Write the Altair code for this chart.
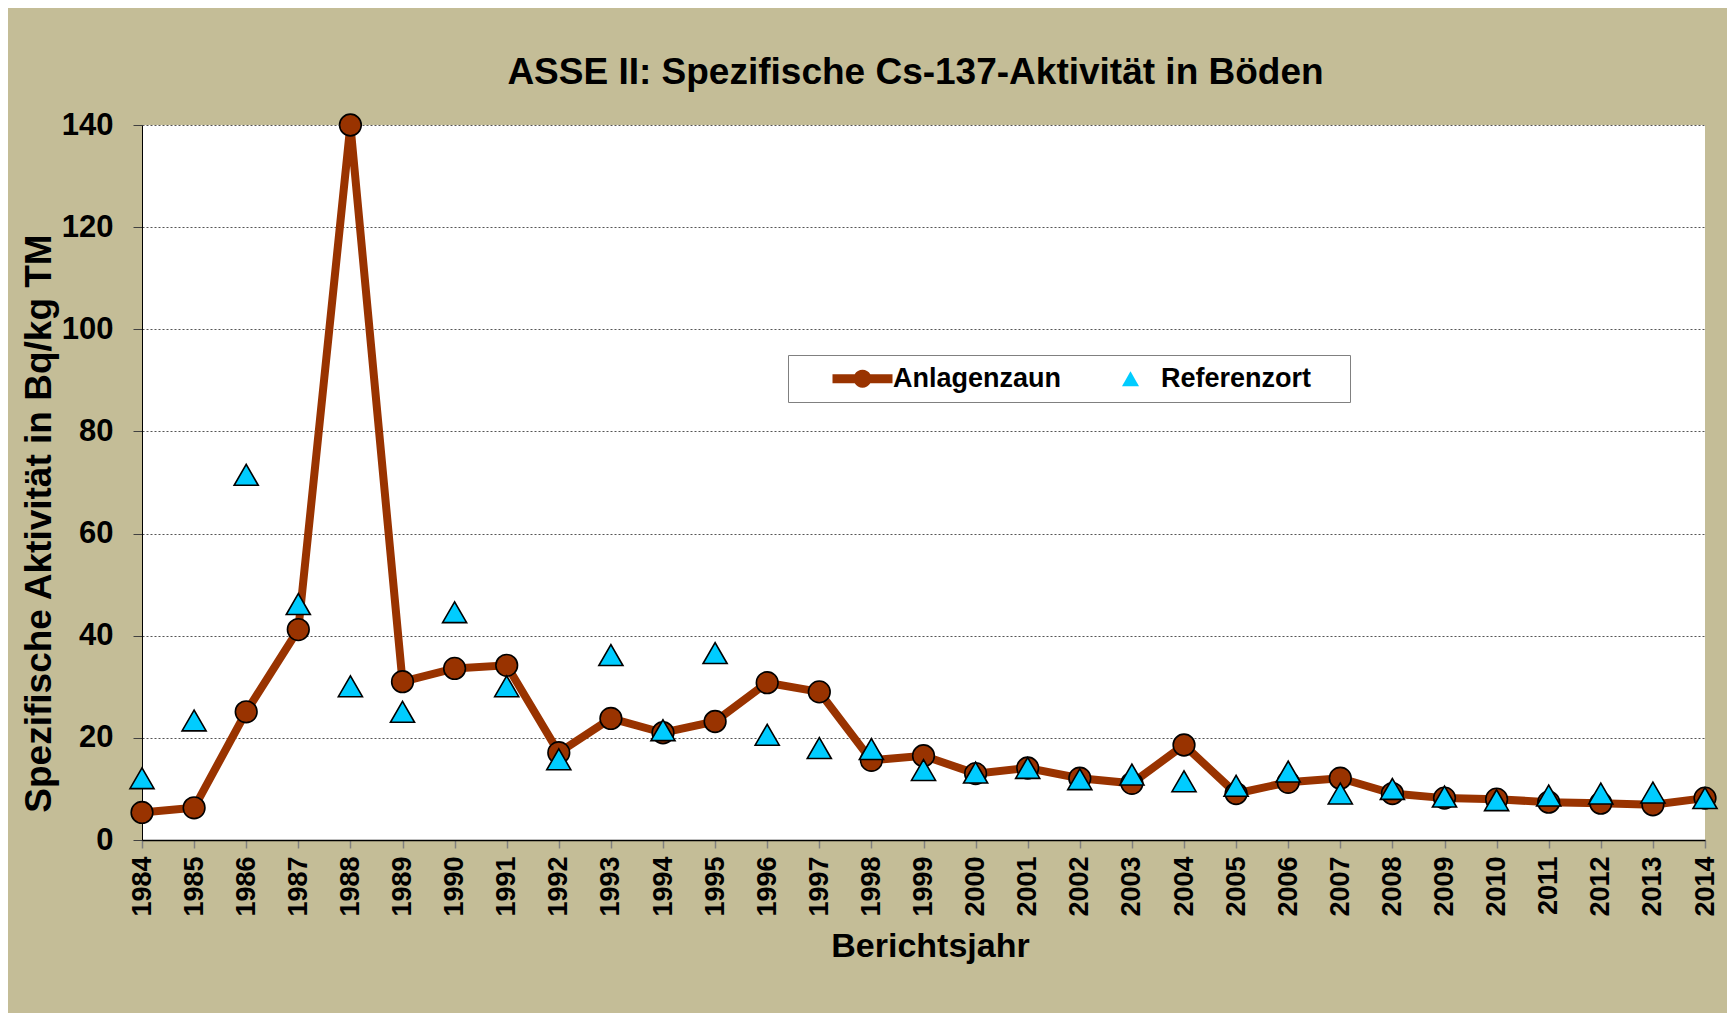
import altair as alt
import pandas as pd

years = list(range(1984, 2015))
anlagenzaun = [5.4, 6.3, 25.1, 41.2, 140.0, 31.0, 33.6, 34.2, 17.1, 23.8,
               21.0, 23.2, 30.8, 29.0, 15.6, 16.5, 13.0, 14.1, 12.1, 11.1,
               18.6, 9.1, 11.3, 12.1, 9.1, 8.2, 8.0, 7.4, 7.2, 6.9, 8.2]
referenzort = [12.1, 23.4, 71.5, 46.2, 30.1, 25.1, 44.6, 30.1, 15.8, 36.2,
               21.5, 36.6, 20.6, 18.0, 17.8, 13.7, 13.2, 14.1, 11.9, 12.8,
               11.5, 10.6, 13.4, 9.1, 10.0, 8.5, 7.8, 8.7, 9.1, 9.3, 8.2]
series_names = ["Anlagenzaun", "Referenzort"]
y_ticks = [0, 20, 40, 60, 80, 100, 120, 140]

title_text = "ASSE II: Spezifische Cs-137-Aktivität in Böden"
x_title = "Berichtsjahr"
y_title = "Spezifische Aktivität in Bq/kg TM"

BROWN = "#993300"
CYAN = "#00CCFF"
BG = "#C4BD97"
FONT = "Liberation Sans"

df = pd.DataFrame({
    "Jahr": years * 2,
    "Wert": anlagenzaun + referenzort,
    "Serie": [series_names[0]] * len(years) + [series_names[1]] * len(years),
})

x_enc = alt.X("Jahr:Q",
              scale=alt.Scale(domain=[1984, 2014], nice=False, zero=False),
              axis=alt.Axis(values=years, format="d", title=x_title,
                            labelAngle=270, labelAlign="right", labelBaseline="middle",
                            labelFontSize=27, labelFont=FONT, labelFontWeight="bold",
                            labelColor="black", labelPadding=8,
                            tickSize=8, tickColor="#808080", tickWidth=1.5,
                            domainColor="black", domainWidth=1.5,
                            titleFont=FONT, titleFontSize=34, titleFontWeight="bold",
                            titleColor="black", titleBaseline="alphabetic",
                            titleY=116, titleX=788, titleAlign="center",
                            grid=False, labelOverlap=False, labelFlush=False))
y_enc = alt.Y("Wert:Q",
              scale=alt.Scale(domain=[0, 140], nice=False),
              axis=alt.Axis(values=y_ticks, title=y_title,
                            labelFontSize=31, labelFont=FONT, labelFontWeight="bold",
                            labelColor="black", labelPadding=20,
                            tickSize=9, tickColor="#404040", tickWidth=1,
                            domainColor="black", domainWidth=1,
                            grid=True, gridColor="#555555", gridDash=[2, 2], gridWidth=1,
                            titleFont=FONT, titleFontSize=37, titleFontWeight="bold",
                            titleColor="black", titleAngle=270,
                            titleBaseline="alphabetic", titleAlign="center",
                            titleX=-92, titleY=398, labelFlush=False))

base = alt.Chart(df)

line = base.transform_filter(alt.datum.Serie == series_names[0]).mark_line(
    color=BROWN, strokeWidth=8, strokeJoin="miter"
).encode(x=x_enc, y=y_enc)

circles = base.transform_filter(alt.datum.Serie == series_names[0]).mark_point(
    shape="circle", filled=True, fill=BROWN, stroke="black", strokeWidth=1.6,
    size=470, opacity=1
).encode(x=x_enc, y=y_enc)

triangles = base.transform_filter(alt.datum.Serie == series_names[1]).mark_point(
    shape="triangle-up", filled=True, fill=CYAN, stroke="black", strokeWidth=1.6,
    size=580, opacity=1
).encode(x=x_enc, y=y_enc)

line_circle_path = ("M-3,-0.45 H-0.779 A0.9,0.9 0 0,1 0.779,-0.45 H3 V0.45 H0.779 "
                    "A0.9,0.9 0 0,1 -0.779,0.45 H-3 Z")
tri_path = "M0,-0.75 L0.85,0.75 L-0.85,0.75 Z"

legend_layer = base.transform_filter("false").mark_point(
    filled=True, stroke="black", strokeWidth=1.3, opacity=1
).encode(
    x=x_enc, y=y_enc,
    shape=alt.Shape("Serie:N", scale=alt.Scale(domain=series_names,
                                               range=[line_circle_path, tri_path]),
                    legend=alt.Legend(
                        title="\u00a0", titleOrient="right", titlePadding=29,
                        titleFontSize=2, titleColor="white",
                        orient="none", legendX=646, legendY=230,
                        direction="horizontal", fillColor="white",
                        strokeColor="#808080", padding=10, columnPadding=4,
                        symbolSize=400, symbolOffset=51, labelOffset=17,
                        symbolStrokeColor="black", symbolStrokeWidth=1.3,
                        labelFont=FONT, labelFontSize=27, labelFontWeight="bold",
                        labelColor="black", labelLimit=400)),
    fill=alt.Fill("Serie:N", scale=alt.Scale(domain=series_names, range=[BROWN, CYAN]),
                  legend=None),
)

chart = alt.layer(line, circles, triangles, legend_layer).properties(
    width=1563, height=715,
    title=alt.TitleParams(text=title_text, font=FONT, fontSize=37, fontWeight="bold",
                          color="black", anchor="middle", frame="group",
                          baseline="alphabetic", offset=27, dy=39, dx=-8),
    background=BG,
    padding={"left": 134, "top": 117, "right": 22, "bottom": 173},
    autosize=alt.AutoSizeParams(type="none"),
).configure_view(fill="white", stroke=None)

chart.save("out.html", embed_options={"renderer": "svg", "actions": False})
